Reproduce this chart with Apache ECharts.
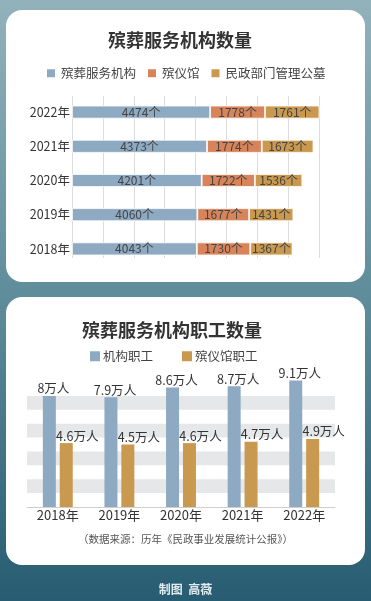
<!DOCTYPE html>
<html>
<head>
<meta charset="utf-8">
<script src="https://cdn.jsdelivr.net/npm/echarts@6/dist/echarts.min.js"></script>
<style>
html,body{margin:0;padding:0;}
#c{width:371px;height:601px;}
</style>
</head>
<body>
<div id="c"></div>
<script>
// ---- data ----
var years = ['2018年', '2019年', '2020年', '2021年', '2022年'];
var orgCount = [4043, 4060, 4201, 4373, 4474];       // 殡葬服务机构
var homeCount = [1730, 1677, 1722, 1774, 1778];      // 殡仪馆
var cemeteryCount = [1367, 1431, 1536, 1673, 1761];  // 民政部门管理公墓
var staffOrg = [8, 7.9, 8.6, 8.7, 9.1];              // 机构职工 (万人)
var staffHome = [4.6, 4.5, 4.6, 4.7, 4.9];           // 殡仪馆职工 (万人)

var FONT = '"Noto Sans CJK SC", "Noto Sans", sans-serif';
var C_BLUE = '#8eaac2', C_ORANGE = '#d8845a', C_GOLD = '#c9994f';

var chart = echarts.init(document.getElementById('c'), null, {renderer: 'canvas'});

var countLabel = {show: true, position: 'inside', formatter: '{c}个', color: '#444', fontSize: 12, fontFamily: FONT};

var option = {
  animation: false,
  textStyle: {fontFamily: FONT},
  backgroundColor: {
    type: 'linear', x: 0, y: 0, x2: 0, y2: 1,
    colorStops: [
      {offset: 0, color: '#92b2bb'},
      {offset: 0.5, color: '#5e8c9a'},
      {offset: 1, color: '#275c72'}
    ]
  },
  graphic: [
    {type: 'rect', z: -10, shape: {x: 6, y: 10, width: 359, height: 272, r: 16}, style: {fill: '#fff'}},
    {type: 'rect', z: -10, shape: {x: 6, y: 297, width: 359, height: 268, r: 16}, style: {fill: '#fff'}}
  ],
  title: [
    {text: '殡葬服务机构数量', left: 108, top: 31, padding: 0, textStyle: {fontSize: 18, fontWeight: 'bold', color: '#333', fontFamily: FONT}},
    {text: '殡葬服务机构职工数量', left: 82, top: 321, padding: 0, textStyle: {fontSize: 18, fontWeight: 'bold', color: '#333', fontFamily: FONT}},
    {text: '（数据来源：历年《民政事业发展统计公报》）', left: 'center', top: 534, padding: 0, textStyle: {fontSize: 10.5, fontWeight: 'normal', color: '#555', fontFamily: FONT}},
    {text: '制图  高薇', left: 'center', top: 583, padding: 0, textStyle: {fontSize: 12, fontWeight: 'bold', color: '#e3edf1', fontFamily: FONT}}
  ],
  legend: [
    {data: ['殡葬服务机构', '殡仪馆', '民政部门管理公墓'], left: 45, top: 67, padding: 0, icon: 'rect', itemWidth: 10, itemHeight: 10, itemGap: 10,
     textStyle: {fontSize: 12.5, color: '#444', fontFamily: FONT}},
    {data: ['机构职工', '殡仪馆职工'], left: 90, top: 350, padding: 0, icon: 'rect', itemWidth: 10, itemHeight: 10, itemGap: 29,
     textStyle: {fontSize: 12.5, color: '#444', fontFamily: FONT, padding: [0, 0, 0, -2]}}
  ],
  grid: [
    {left: 72, width: 247, top: 95, height: 171},
    {left: 72, width: 247, top: 96, height: 162},
    {left: 27, right: 36, top: 382, height: 125}
  ],
  xAxis: [
    {type: 'value', gridIndex: 0, min: 0, max: 8000, interval: 1000, show: false},
    {type: 'value', gridIndex: 1, min: 0, max: 8000, interval: 1000, z: 0,
     axisLabel: {show: false}, axisLine: {show: false}, axisTick: {show: false},
     splitLine: {show: true, lineStyle: {color: '#dcdcdc', width: 1}}},
    {type: 'category', gridIndex: 2, data: years,
     axisLine: {show: true, lineStyle: {color: '#cfcfcf'}}, axisTick: {show: false},
     axisLabel: {fontSize: 13, color: '#333', margin: 2, fontFamily: FONT}}
  ],
  yAxis: [
    {type: 'category', gridIndex: 0, data: years,
     axisLine: {show: false}, axisTick: {show: false},
     axisLabel: {fontSize: 12.5, color: '#333', margin: 2, fontFamily: FONT}},
    {type: 'value', gridIndex: 1, min: 0, max: 1, show: false},
    {type: 'value', gridIndex: 2, min: 0, max: 9, interval: 1,
     axisLabel: {show: false}, axisLine: {show: false}, axisTick: {show: false},
     splitLine: {show: false},
     splitArea: {show: true, areaStyle: {color: ['rgba(0,0,0,0)', '#e6e7e9']}}}
  ],
  series: [
    {name: '殡葬服务机构', type: 'bar', stack: 'n', z: 5, xAxisIndex: 0, yAxisIndex: 0, data: orgCount, barWidth: 13, clip: false,
     itemStyle: {color: C_BLUE, borderColor: '#fff', borderWidth: 0.8}, label: countLabel},
    {name: '殡仪馆', type: 'bar', stack: 'n', z: 5, xAxisIndex: 0, yAxisIndex: 0, data: homeCount, barWidth: 13, clip: false,
     itemStyle: {color: C_ORANGE, borderColor: '#fff', borderWidth: 0.8}, label: countLabel},
    {name: '民政部门管理公墓', type: 'bar', stack: 'n', z: 5, xAxisIndex: 0, yAxisIndex: 0, data: cemeteryCount, barWidth: 13, clip: false,
     itemStyle: {color: C_GOLD, borderColor: '#fff', borderWidth: 0.8}, label: countLabel},
    {name: '机构职工', type: 'bar', xAxisIndex: 2, yAxisIndex: 2, data: staffOrg, barWidth: 13, barGap: '30%', clip: false,
     itemStyle: {color: C_BLUE},
     label: {show: true, position: 'top', distance: 1, offset: [4, 0], formatter: '{c}万人', color: '#333', fontSize: 12.5, fontFamily: FONT}},
    {name: '殡仪馆职工', type: 'bar', xAxisIndex: 2, yAxisIndex: 2, data: staffHome, barWidth: 13, barGap: '30%', clip: false,
     itemStyle: {color: C_GOLD},
     label: {show: true, position: 'top', distance: 1, offset: [11, 0], formatter: '{c}万人', color: '#333', fontSize: 12.5, fontFamily: FONT}}
  ]
};
chart.setOption(option);
</script>
</body>
</html>
